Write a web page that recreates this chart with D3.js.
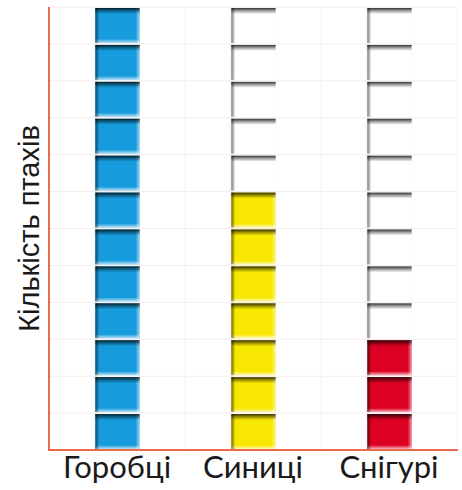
<!DOCTYPE html>
<html>
<head>
<meta charset="utf-8">
<script src="https://cdn.jsdelivr.net/npm/d3@7"></script>
<style>
  body { margin: 0; background: #fff; }
  svg { display: block; }
</style>
</head>
<body>
<svg id="chart" width="462" height="490"></svg>
<script>
"use strict";

var categories = ["Горобці", "Синиці", "Снігурі"];
var counts = [12, 7, 3];
var maxCount = 12;
var colors = ["#169bdc", "#f8e700", "#dc0022"];
var yTitle = "Кількість птахів";

var svg = d3.select("#chart");
var margin = { top: 7, right: 5, bottom: 40, left: 49 };
var width = 462 - margin.left - margin.right;
var height = 490 - margin.top - margin.bottom;

var x = d3.scaleBand().domain(categories).range([margin.left, margin.left + width]);
var y = d3.scaleLinear().domain([0, maxCount]).range([margin.top + height, margin.top]);
var cell = x.bandwidth() / 3;

var defs = svg.append("defs");
function grad(id, x2, y2, stops) {
    var g = defs.append("linearGradient").attr("id", id)
        .attr("x1", 0).attr("y1", 0).attr("x2", x2).attr("y2", y2);
    stops.forEach(function (s) {
        g.append("stop").attr("offset", s[0]).attr("stop-color", s[1]).attr("stop-opacity", s[2]);
    });
}
grad("shTop", 0, 1, [[0, "#000", 0.8], [0.5, "#000", 0.35], [1, "#000", 0]]);
grad("shLeft", 1, 0, [[0, "#000", 0.55], [1, "#000", 0]]);
grad("hlBottom", 0, 1, [[0, "#fff", 0], [1, "#fff", 0.7]]);
grad("hlRight", 1, 0, [[0, "#fff", 0], [1, "#fff", 0.6]]);

// grid
var grid = svg.append("g").attr("class", "grid");
grid.selectAll("line.h").data(d3.range(1, maxCount + 1)).enter().append("line")
    .attr("class", "h")
    .attr("x1", margin.left).attr("x2", margin.left + width)
    .attr("y1", function (d) { return y(d); }).attr("y2", function (d) { return y(d); })
    .attr("stroke", "#f5ecea").attr("stroke-width", 1);
grid.selectAll("line.v").data(d3.range(1, 10)).enter().append("line")
    .attr("class", "v")
    .attr("x1", function (d) { return margin.left + d * cell; })
    .attr("x2", function (d) { return margin.left + d * cell; })
    .attr("y1", margin.top).attr("y2", margin.top + height)
    .attr("stroke", "#f6f4f4").attr("stroke-width", 1);

// blocks
categories.forEach(function (c, ci) {
    var g = svg.append("g").attr("class", "col");
    var bx = x(c) + cell + 1;
    var bw = cell - 1;
    d3.range(maxCount).forEach(function (i) {
        var filled = i < counts[ci];
        var by = y(i + 1) + 1;
        var bh = y(i) - y(i + 1) - 2;
        var b = g.append("g");
        b.append("rect").attr("x", bx).attr("y", by).attr("width", bw).attr("height", bh)
            .attr("fill", filled ? colors[ci] : "#fff");
        if (filled) {
            b.append("rect").attr("x", bx).attr("y", by + bh - 4).attr("width", bw).attr("height", 4)
                .attr("fill", "url(#hlBottom)");
            b.append("rect").attr("x", bx + bw - 4).attr("y", by).attr("width", 4).attr("height", bh)
                .attr("fill", "url(#hlRight)");
        }
        b.append("rect").attr("x", bx).attr("y", by).attr("width", bw).attr("height", 6)
            .attr("fill", "url(#shTop)");
        b.append("rect").attr("x", bx).attr("y", by).attr("width", 4).attr("height", bh)
            .attr("fill", "url(#shLeft)");
    });
});

// axes
svg.append("line")
    .attr("x1", margin.left).attr("x2", margin.left)
    .attr("y1", margin.top).attr("y2", margin.top + height)
    .attr("stroke", "#ea6a4c").attr("stroke-width", 2);
svg.append("line")
    .attr("x1", margin.left - 1).attr("x2", margin.left + width + 1)
    .attr("y1", margin.top + height).attr("y2", margin.top + height)
    .attr("stroke", "#ea6a4c").attr("stroke-width", 2);

svg.append("g").selectAll("text").data(categories).enter().append("text")
    .attr("x", function (d) { return x(d) + x.bandwidth() / 2; })
    .attr("y", 478)
    .attr("text-anchor", "middle")
    .style("font-family", "Lato, sans-serif")
    .style("font-size", "31px")
    .style("fill", "#1a1a1a")
    .text(function (d) { return d; });

svg.append("text")
    .attr("transform", "translate(39," + (margin.top + height / 2) + ") rotate(-90)")
    .attr("text-anchor", "middle")
    .style("font-family", "'Liberation Sans', Arial, sans-serif")
    .style("font-size", "29px")
    .style("fill", "#1a1a1a")
    .text(yTitle);
</script>
</body>
</html>
